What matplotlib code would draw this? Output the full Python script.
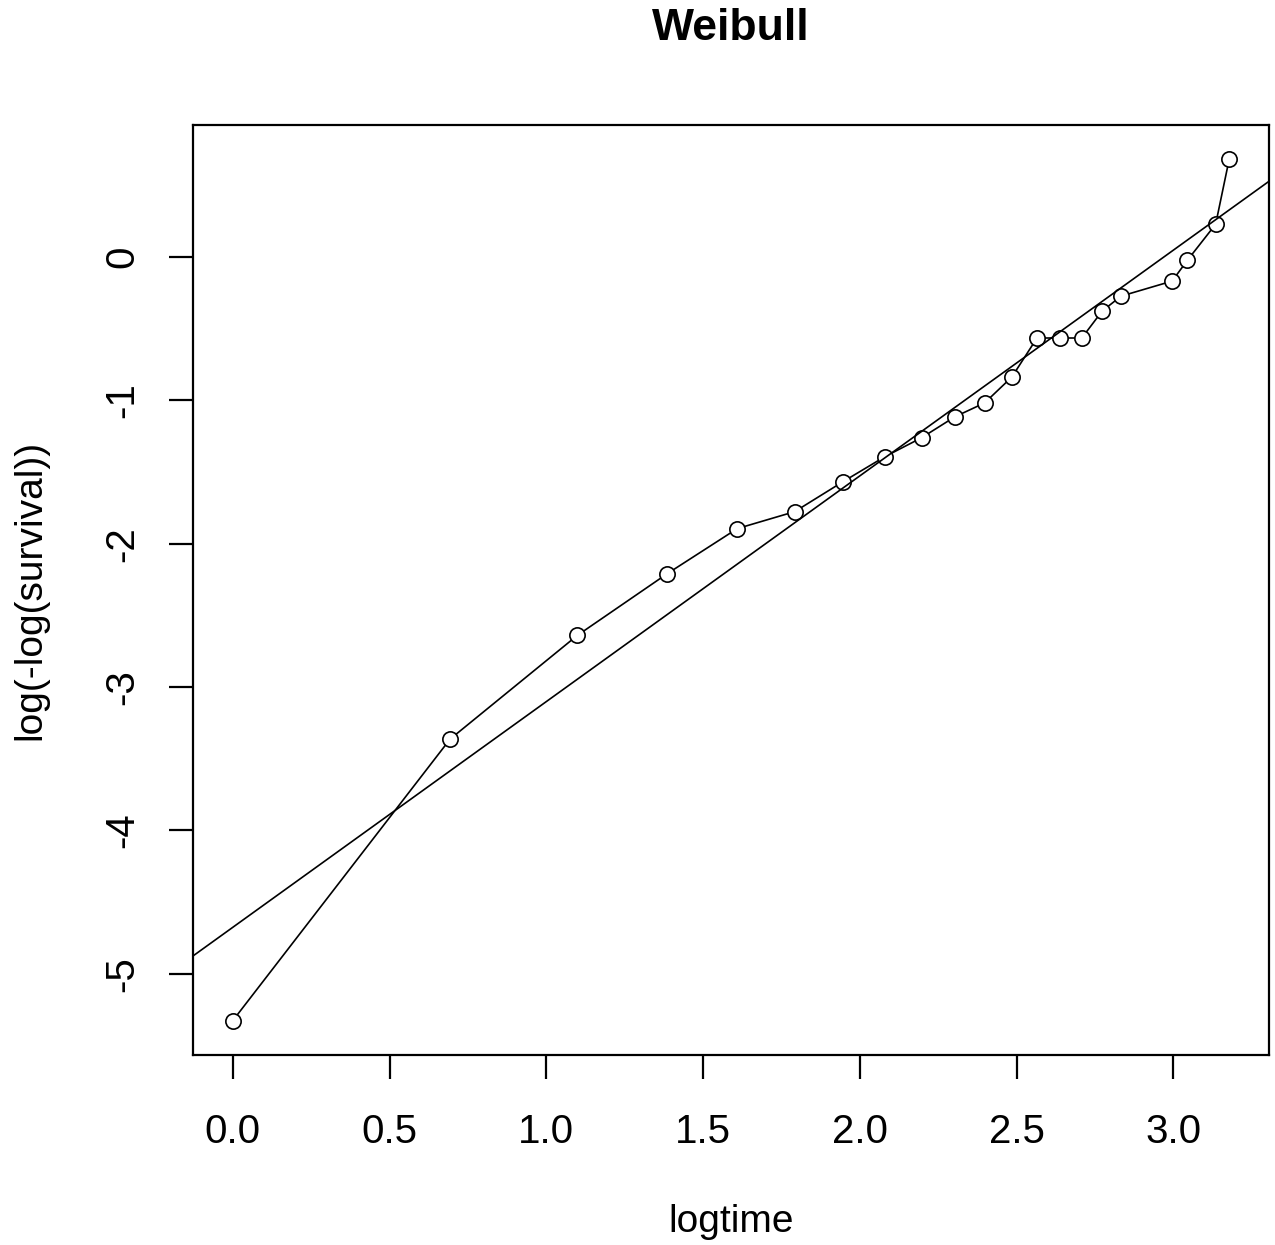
import numpy as np
import matplotlib
matplotlib.use("Agg")
import matplotlib.pyplot as plt

# log of the event times and log(-log(S))
logtime = [0.000, 0.693, 1.099, 1.386, 1.609, 1.792, 1.946, 2.079, 2.197, 2.303,
           2.398, 2.485, 2.565, 2.639, 2.708, 2.773, 2.833, 2.996, 3.045, 3.135, 3.178]
loglogsurv = [-5.327, -3.363, -2.639, -2.208, -1.894, -1.776, -1.567, -1.393, -1.260, -1.114,
              -1.017, -0.836, -0.564, -0.564, -0.564, -0.376, -0.272, -0.167, -0.021, 0.230, 0.682]

# fitted straight line (intercept, slope)
fit_a, fit_b = -4.676, 1.575

xticks = [0.0, 0.5, 1.0, 1.5, 2.0, 2.5, 3.0]
yticks = [-5, -4, -3, -2, -1, 0]

plt.rcParams['font.family'] = ['Liberation Sans', 'DejaVu Sans']
plt.rcParams['axes.unicode_minus'] = False

fig = plt.figure(figsize=(12.75, 12.45), dpi=100)
ax = fig.add_axes([193 / 1275, 1 - 1055 / 1245, (1269 - 193) / 1275, (1055 - 125) / 1245])

# R style 4% padding
xr = max(logtime) - min(logtime)
yr = max(loglogsurv) - min(loglogsurv)
ax.set_xlim(min(logtime) - 0.04 * xr, max(logtime) + 0.04 * xr)
ax.set_ylim(min(loglogsurv) - 0.04 * yr, max(loglogsurv) + 0.04 * yr)

ax.plot(logtime, loglogsurv, color='black', lw=1.2, marker='o', ms=11,
        mfc='white', mec='black', mew=1.2, zorder=2)

xx = np.array(ax.get_xlim())
ax.plot(xx, fit_a + fit_b * xx, color='black', lw=1.2, zorder=3)

ax.set_xticks(xticks)
ax.set_xticklabels(['%.1f' % v for v in xticks])
ax.set_yticks(yticks)
ax.set_yticklabels([str(v) for v in yticks])
ax.tick_params(axis='both', length=17, width=1.6, labelsize=29)
ax.tick_params(axis='x', pad=25)
ax.tick_params(axis='y', pad=20)
for lab in ax.get_yticklabels():
    lab.set_rotation(90)
    lab.set_va('center')

for s in ax.spines.values():
    s.set_linewidth(1.6)

ax.set_title('Weibull', fontsize=32, fontweight='bold', y=1 + (125 - 37) / 930, va='center')

ax.set_xlabel('logtime', fontsize=28)
ax.xaxis.set_label_coords(0.5, -(1222 - 1055) / 930)
ax.xaxis.label.set_va('center')
ax.set_ylabel('log(-log(survival))', fontsize=28)
ax.yaxis.set_label_coords(-(193 - 30) / 1076, 0.5)
ax.yaxis.label.set_va('center')

fig.savefig('out.png', dpi=100)
